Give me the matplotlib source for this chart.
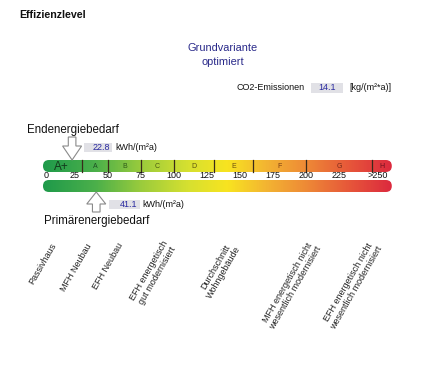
import numpy as np
import matplotlib.pyplot as plt
from matplotlib.colors import LinearSegmentedColormap
from matplotlib.patches import FancyBboxPatch, Polygon, Rectangle

plt.rcParams['font.family'] = ['Liberation Sans', 'DejaVu Sans']

# data
end_energy = 22.8
prim_energy = 41.1
co2 = 14.1
class_names = ['A+', 'A', 'B', 'C', 'D', 'E', 'F', 'G', 'H']
class_bounds = [0, 30, 50, 75, 100, 130, 160, 200, 250, 265]
tick_values = [0, 25, 50, 75, 100, 125, 150, 175, 200, 225, 250]
tick_labels = ['0', '25', '50', '75', '100', '125', '150', '175', '200', '225', '>250']
ref_names = ['Passivhaus', 'MFH Neubau', 'EFH Neubau',
             'EFH energetisch\ngut modernisiert', 'Durchschnitt\nWohngebäude',
             'MFH energetisch nicht\nwesentlich modernisiert',
             'EFH energetisch nicht\nwesentlich modernisiert']
ref_values = [9, 36, 60, 97, 146, 207, 253]

grad_pos = [0, 40, 75, 110, 140, 170, 200, 235, 265]
grad_col = ['#1f9a4a', '#4cb04a', '#9ccc3c', '#d6e030', '#f8e420',
            '#f3b432', '#ee8a36', '#e6543a', '#dc2a3e']
letter_col = ['#123a1c', '#1e4e26', '#2e5a1a', '#4a5a14', '#5a5212',
              '#6a4e12', '#7a3e12', '#7a2a1a', '#6a1020']

W, H = 422, 375
PX = 1.32          # pixels per kWh
X0 = 42            # pixel of value 0

fig = plt.figure(figsize=(W / 100, H / 100), dpi=100)
ax = fig.add_axes([0, 0, 1, 1])
ax.set_xlim(-X0 / PX, (W - X0) / PX)
ax.set_ylim(H, 0)
ax.axis('off')

cmap = LinearSegmentedColormap.from_list(
    'eff', [(p / grad_pos[-1], c) for p, c in zip(grad_pos, grad_col)])
grad = np.linspace(0, 1, 400)[None, :]
xa, xb = 0.75, class_bounds[-1]


def bar(y0, y1):
    patch = FancyBboxPatch((xa, y0), xb - xa, y1 - y0,
                           boxstyle='round,pad=0,rounding_size=%f' % (6 / PX),
                           mutation_aspect=PX, transform=ax.transData,
                           facecolor='none', edgecolor='none')
    ax.add_patch(patch)
    im = ax.imshow(grad, cmap=cmap, extent=[xa, xb, y1, y0], aspect='auto',
                   interpolation='bilinear')
    im.set_clip_path(patch)


bar(160, 172)
bar(180, 192)

for b in class_bounds[1:-1]:
    ax.plot([b, b], [160, 172], color='#3a2a1a', lw=0.9)
for i, name in enumerate(class_names):
    mid = (class_bounds[i] + class_bounds[i + 1]) / 2
    if name == 'A+':
        ax.text(mid, 166.5, name, ha='center', va='center', fontsize=8.5,
                color=letter_col[i])
    else:
        ax.text(mid, 166, name, ha='center', va='center', fontsize=5,
                color=letter_col[i])

for v, lab in zip(tick_values, tick_labels):
    if v == 0:
        ax.text(v + 1.5, 176, lab, ha='left', va='center', fontsize=6.5, color='#111')
    elif lab.startswith('>'):
        ax.text(v + 4, 176, lab, ha='center', va='center', fontsize=6.5, color='#111')
    else:
        ax.text(v, 176, lab, ha='center', va='center', fontsize=6.5, color='#111')


def arrow(v, tip, base, head_y):
    hw, sw = 9.5 / PX, 3.8 / PX
    pts = [(v, tip), (v - hw, head_y), (v - sw, head_y), (v - sw, base),
           (v + sw, base), (v + sw, head_y), (v + hw, head_y)]
    ax.add_patch(Polygon(pts, closed=True, facecolor='white',
                         edgecolor='#8a8a8a', lw=0.8, zorder=5))


arrow(end_energy, 160, 137, 146)
arrow(prim_energy, 192, 212, 204)

# value boxes
ax.add_patch(Rectangle((end_energy + 12 / PX, 143), 28 / PX, 9,
                       facecolor='#e1e1e6', edgecolor='none'))
ax.text(end_energy + 38 / PX, 147.5, f'{end_energy:.1f}', ha='right', va='center',
        fontsize=6.5, color='#2a2aa0')
ax.text(end_energy + 43 / PX, 147.5, 'kWh/(m²a)', ha='left', va='center',
        fontsize=6.5, color='#111')

ax.add_patch(Rectangle((prim_energy + 13 / PX, 200), 31 / PX, 9,
                       facecolor='#e1e1e6', edgecolor='none'))
ax.text(prim_energy + 41 / PX, 204.5, f'{prim_energy:.1f}', ha='right', va='center',
        fontsize=6.5, color='#2a2aa0')
ax.text(prim_energy + 46 / PX, 204.5, 'kWh/(m²a)', ha='left', va='center',
        fontsize=6.5, color='#111')

ax.text(-15 / PX, 130, 'Endenergiebedarf', ha='left', va='center',
        fontsize=8.3, color='#111')
ax.text(2 / PX, 221, 'Primärenergiebedarf', ha='left', va='center',
        fontsize=8.3, color='#111')

# header
ax.text(-23 / PX, 15, 'Effizienzlevel', ha='left', va='center',
        fontsize=7.7, fontweight='bold', color='#111')
ax.text(181 / PX, 48, 'Grundvariante', ha='center', va='center',
        fontsize=7.9, color='#2a2a8a')
ax.text(181 / PX, 62, 'optimiert', ha='center', va='center',
        fontsize=7.9, color='#2a2a8a')
ax.text(263 / PX, 88, 'CO2-Emissionen', ha='right', va='center',
        fontsize=6.5, color='#111')
ax.add_patch(Rectangle((269 / PX, 83), 32 / PX, 10,
                       facecolor='#e1e1e6', edgecolor='none'))
ax.text(285 / PX, 88, f'{co2:.1f}', ha='center', va='center',
        fontsize=6.5, color='#2a2aa0')
ax.text(307 / PX, 88, '[kg/(m²*a)]', ha='left', va='center',
        fontsize=6.5, color='#111')

# reference buildings
for v, name in zip(ref_values, ref_names):
    ax.text(v, 244, name, rotation=60, rotation_mode='anchor', ha='right',
            va='center', multialignment='center', fontsize=6.5, color='#222',
            linespacing=1.1)

fig.savefig('out.png', dpi=100)
